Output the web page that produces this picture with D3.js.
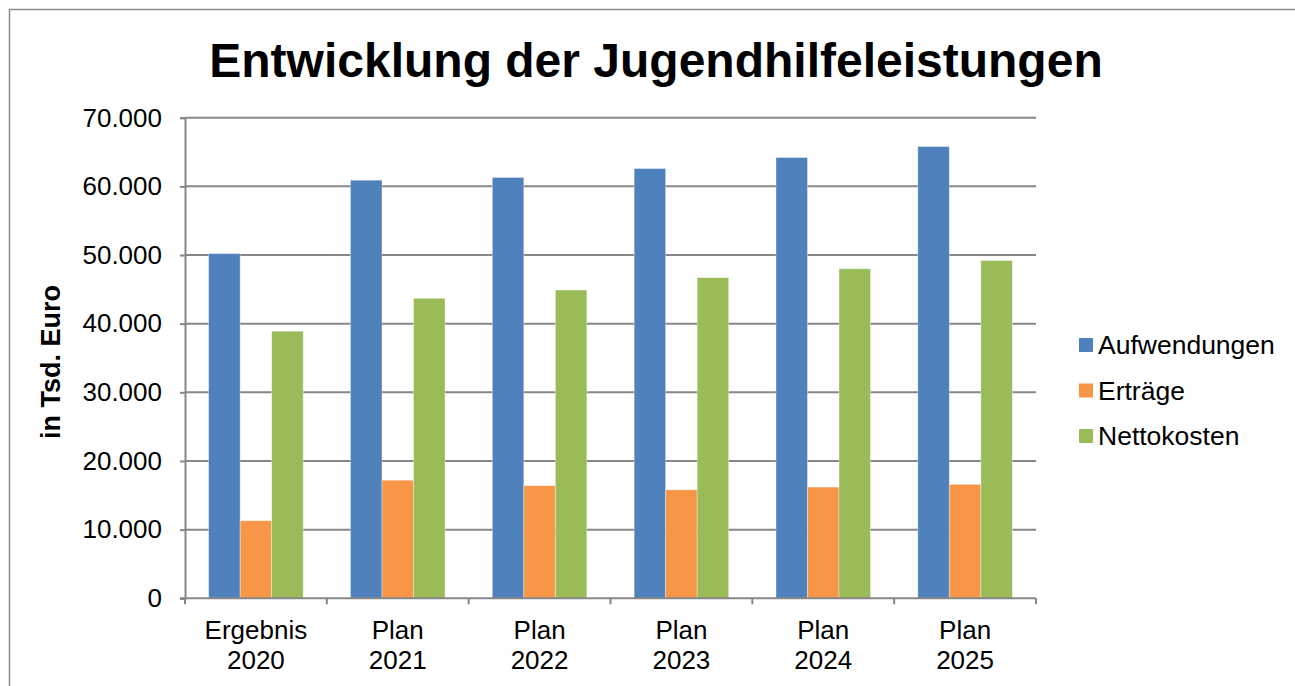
<!DOCTYPE html>
<html>
<head>
<meta charset="utf-8">
<script src="https://cdn.jsdelivr.net/npm/d3@7"></script>
<style>
  html, body { margin: 0; padding: 0; background: #fff; }
  svg { display: block; font-family: "Liberation Sans", Arial, sans-serif; }
</style>
</head>
<body>
<svg id="chart" width="1295" height="686"></svg>
<script>
const title = "Entwicklung der Jugendhilfeleistungen";
const yAxisTitle = "in Tsd. Euro";
const categories = [["Ergebnis", "2020"], ["Plan", "2021"], ["Plan", "2022"], ["Plan", "2023"], ["Plan", "2024"], ["Plan", "2025"]];
const seriesNames = ["Aufwendungen", "Erträge", "Nettokosten"];
const seriesColors = ["#4F81BD", "#F79646", "#9BBB59"];
const aufwendungen = [50200, 60900, 61300, 62600, 64200, 65800];
const ertraege = [11300, 17200, 16400, 15800, 16200, 16600];
const nettokosten = [38900, 43700, 44900, 46700, 48000, 49200];
const yTicks = [0, 10000, 20000, 30000, 40000, 50000, 60000, 70000];

const seriesValues = [aufwendungen, ertraege, nettokosten];
const svg = d3.select("#chart");
const W = 1295, H = 686;
const plot = { left: 185, right: 1036, top: 117.7, bottom: 598.3 };

// outer border
svg.append("rect").attr("x", 9.5).attr("y", 9.5).attr("width", W + 10).attr("height", H + 10)
  .attr("fill", "none").attr("stroke", "#8a8a8a").attr("stroke-width", 1.5);

// title
svg.append("text").attr("x", 656).attr("y", 77).attr("text-anchor", "middle")
  .attr("font-size", 48).attr("font-weight", "bold").attr("fill", "#000").text(title);

const catKeys = categories.map((c, i) => i);
const x0 = d3.scaleBand().domain(catKeys).range([plot.left, plot.right]).paddingInner(0).paddingOuter(0);
const y = d3.scaleLinear().domain([0, 70000]).range([plot.bottom, plot.top]);

// bar geometry: gap width 150%
const bw = x0.bandwidth() / 4.5;
const x1 = d3.scaleBand().domain([0, 1, 2]).range([0.75 * bw, 3.75 * bw]).padding(0);

// gridlines
svg.append("g").selectAll("line").data(yTicks.filter(d => d > 0)).join("line")
  .attr("x1", plot.left).attr("x2", plot.right)
  .attr("y1", d => y(d)).attr("y2", d => y(d))
  .attr("stroke", "#878787").attr("stroke-width", 2);

// bars
const groups = svg.append("g").selectAll("g").data(catKeys).join("g")
  .attr("transform", i => `translate(${x0(i)},0)`);
groups.selectAll("rect").data(i => seriesValues.map((s, k) => ({ k, v: s[i] }))).join("rect")
  .attr("x", d => x1(d.k)).attr("width", x1.bandwidth())
  .attr("y", d => y(d.v)).attr("height", d => y(0) - y(d.v))
  .attr("fill", d => seriesColors[d.k])
  .attr("stroke", "rgba(255,255,255,0.45)").attr("stroke-width", 0.8);

// y axis
const yAxis = d3.axisLeft(y).tickValues(yTicks).tickSize(5).tickPadding(18)
  .tickFormat(d => d === 0 ? "0" : d3.format(",")(d).replace(/,/g, "."));
const gy = svg.append("g").attr("transform", `translate(${plot.left},0)`).call(yAxis);
gy.select(".domain").attr("stroke", "#878787").attr("stroke-width", 2);
gy.selectAll(".tick line").attr("stroke", "#878787").attr("stroke-width", 2);
gy.selectAll(".tick text").attr("font-size", 26).attr("fill", "#000")
  .attr("font-family", "Liberation Sans, Arial, sans-serif");

// x axis
svg.append("line").attr("x1", plot.left - 5).attr("x2", plot.right)
  .attr("y1", plot.bottom).attr("y2", plot.bottom)
  .attr("stroke", "#878787").attr("stroke-width", 2);
const boundaries = catKeys.map(i => x0(i)).concat([plot.right]);
svg.append("g").selectAll("line").data(boundaries).join("line")
  .attr("x1", d => d).attr("x2", d => d)
  .attr("y1", plot.bottom).attr("y2", plot.bottom + 6)
  .attr("stroke", "#878787").attr("stroke-width", 2);
const lbl = svg.append("g").selectAll("text").data(catKeys).join("text")
  .attr("x", i => x0(i) + x0.bandwidth() / 2).attr("y", 639)
  .attr("text-anchor", "middle").attr("font-size", 26).attr("fill", "#000");
lbl.append("tspan").attr("x", i => x0(i) + x0.bandwidth() / 2).text(i => categories[i][0]);
lbl.append("tspan").attr("x", i => x0(i) + x0.bandwidth() / 2).attr("dy", 30).text(i => categories[i][1]);

// y axis title
svg.append("text").attr("transform", "translate(60,362) rotate(-90)")
  .attr("text-anchor", "middle").attr("font-size", 27).attr("font-weight", "bold")
  .attr("fill", "#000").text(yAxisTitle);

// legend
const legendY = [345, 390.5, 436];
const lg = svg.append("g").selectAll("g").data(seriesNames).join("g")
  .attr("transform", (d, i) => `translate(1079,${legendY[i]})`);
lg.append("rect").attr("x", 0).attr("y", -7).attr("width", 14).attr("height", 14)
  .attr("fill", (d, i) => seriesColors[i]);
lg.append("text").attr("x", 19).attr("y", 0).attr("dy", "0.35em")
  .attr("font-size", 26.5).attr("fill", "#000").text(d => d);
</script>
</body>
</html>
